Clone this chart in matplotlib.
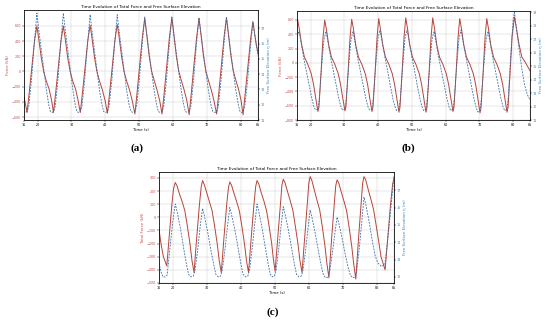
import matplotlib.pyplot as plt

# ---- data ----
time_ticks = [16, 20, 30, 40, 50, 60, 70, 80, 85]

# (a)
a_force_t = [16.0, 16.9, 17.5, 18.3, 19.1, 19.8, 20.3, 21.1, 21.8, 22.6, 23.4, 24.1, 24.7,
             25.3, 26.1, 26.9, 27.6, 28.1, 28.9, 29.6, 30.4, 31.2, 31.9, 32.6,
             33.2, 34.0, 34.8, 35.5, 36.0, 36.8, 37.5, 38.3, 39.1, 39.9, 40.6,
             41.2, 42.0, 42.8, 43.5, 44.0, 44.8, 45.5, 46.3, 47.1, 47.9, 48.7,
             49.3, 50.1, 50.9, 51.6, 52.1, 52.9, 53.6, 54.4, 55.2, 56.0, 56.7,
             57.3, 58.1, 58.9, 59.6, 60.1, 60.9, 61.6, 62.4, 63.2, 64.0, 64.7,
             65.3, 66.1, 66.9, 67.6, 68.1, 68.9, 69.6, 70.4, 71.2, 72.0, 72.8,
             73.4, 74.2, 75.0, 75.7, 76.2, 77.0, 77.7, 78.5, 79.3, 80.0, 80.6,
             81.2, 82.0, 82.8, 83.5, 84.0, 84.5, 85.0]
a_force = [-330, -540, -300, 50, 400, 600, 450, 180, 0, -130, -230, -370, -540,
           -300, 50, 400, 600, 450, 180, 0, -130, -230, -370, -540,
           -300, 50, 400, 610, 460, 180, 0, -130, -240, -380, -550,
           -300, 50, 410, 620, 470, 190, 0, -130, -240, -380, -560,
           -300, 80, 450, 700, 520, 210, 10, -120, -240, -380, -560,
           -300, 80, 460, 710, 520, 210, 10, -120, -240, -380, -570,
           -300, 80, 450, 700, 520, 210, 10, -120, -240, -380, -560,
           -300, 80, 460, 710, 520, 210, 10, -120, -240, -380, -570,
           -300, 60, 420, 660, 500, 350, 250]
a_eta_t = [16.0, 16.5, 16.9, 17.4, 18.2, 19.0, 19.8, 20.2, 21.0, 21.8, 22.6, 23.3, 23.8, 24.3, 24.7,
           25.2, 26.0, 26.8, 27.6, 28.0, 28.8, 29.6, 30.4, 31.1, 31.6, 32.1, 32.6,
           33.1, 33.9, 34.7, 35.5, 35.9, 36.7, 37.5, 38.3, 39.0, 39.5, 40.1, 40.6,
           41.1, 41.9, 42.7, 43.5, 43.9, 44.7, 45.5, 46.3, 47.0, 47.6, 48.2, 48.7,
           49.2, 50.0, 50.8, 51.6, 52.0, 52.8, 53.6, 54.4, 55.1, 55.6, 56.2, 56.7,
           57.2, 58.0, 58.8, 59.6, 60.0, 60.8, 61.6, 62.4, 63.1, 63.6, 64.2, 64.7,
           65.2, 66.0, 66.8, 67.6, 68.0, 68.8, 69.6, 70.4, 71.1, 71.7, 72.3, 72.8,
           73.3, 74.1, 74.9, 75.7, 76.1, 76.9, 77.7, 78.5, 79.2, 79.7, 80.2, 80.6,
           81.1, 81.9, 82.7, 83.5, 83.9, 84.5, 85.0]
a_eta = [11.6, 11.5, 11.55, 11.9, 13.6, 15.9, 18.0, 17.2, 15.8, 14.4, 13.0, 12.0, 11.55, 11.5, 11.55,
         11.9, 13.6, 15.9, 18.0, 17.2, 15.8, 14.4, 13.0, 12.0, 11.55, 11.5, 11.55,
         11.9, 13.6, 15.9, 17.9, 17.1, 15.7, 14.3, 12.9, 12.0, 11.55, 11.5, 11.55,
         11.9, 13.6, 15.9, 17.9, 17.1, 15.7, 14.3, 12.9, 12.0, 11.55, 11.5, 11.55,
         11.9, 13.6, 15.8, 17.75, 17.0, 15.6, 14.2, 12.9, 12.0, 11.55, 11.5, 11.55,
         11.9, 13.6, 15.8, 17.75, 17.0, 15.6, 14.2, 12.9, 12.0, 11.55, 11.5, 11.55,
         11.9, 13.6, 15.8, 17.7, 17.0, 15.6, 14.2, 12.9, 12.0, 11.55, 11.5, 11.55,
         11.9, 13.6, 15.8, 17.75, 17.0, 15.6, 14.2, 12.9, 12.0, 11.55, 11.5, 11.55,
         11.9, 13.5, 15.6, 17.4, 16.8, 15.9, 15.2]

# (b)
b_force_t = [16.0, 16.2, 16.7, 17.4, 18.2, 19.2, 20.2, 20.9, 21.5, 22.2, 22.5, 23.1, 23.7,
             24.2, 24.7, 25.4, 26.2, 27.2, 28.2, 28.9, 29.5, 30.2, 30.5, 31.1, 31.7,
             32.2, 32.7, 33.4, 34.2, 35.2, 36.2, 36.9, 37.5, 38.2, 38.5, 39.1, 39.7,
             40.2, 40.7, 41.4, 42.2, 43.2, 44.2, 44.9, 45.5, 46.2, 46.5, 47.1, 47.7,
             48.2, 48.7, 49.4, 50.2, 51.2, 52.2, 52.9, 53.5, 54.2, 54.5, 55.1, 55.7,
             56.2, 56.7, 57.4, 58.2, 59.2, 60.2, 60.9, 61.5, 62.2, 62.5, 63.1, 63.7,
             64.2, 64.7, 65.4, 66.2, 67.2, 68.2, 68.9, 69.5, 70.2, 70.5, 71.1, 71.7,
             72.2, 72.7, 73.4, 74.2, 75.2, 76.2, 76.9, 77.5, 78.2, 78.5, 79.1, 79.7,
             80.4, 81.0, 81.8, 82.6, 83.6, 85.0]
b_force = [590, 600, 470, 250, 80, -20, -150, -300, -480, -680, -620, -150, 350,
           600, 470, 250, 80, -20, -150, -300, -480, -670, -610, -150, 350,
           610, 480, 250, 80, -20, -150, -300, -480, -680, -620, -150, 350,
           620, 480, 250, 80, -20, -150, -300, -480, -690, -620, -150, 360,
           630, 490, 250, 80, -20, -150, -300, -480, -690, -620, -150, 360,
           630, 490, 250, 80, -20, -150, -300, -480, -680, -620, -150, 360,
           620, 480, 250, 80, -20, -150, -300, -480, -700, -630, -150, 360,
           620, 480, 250, 80, -20, -150, -300, -480, -690, -620, -150, 370,
           640, 480, 250, 80, 10, -110]
b_eta_t = [16.0, 16.6, 17.3, 18.0, 18.8, 19.6, 20.4, 21.0, 21.5, 22.2, 22.6, 23.3, 24.0,
           24.6, 25.3, 26.0, 26.8, 27.6, 28.4, 29.0, 29.5, 30.2, 30.6, 31.3, 32.0,
           32.6, 33.3, 34.0, 34.8, 35.6, 36.4, 37.0, 37.5, 38.2, 38.6, 39.3, 40.0,
           40.6, 41.3, 42.0, 42.8, 43.6, 44.4, 45.0, 45.5, 46.2, 46.6, 47.3, 48.0,
           48.6, 49.3, 50.0, 50.8, 51.6, 52.4, 53.0, 53.5, 54.2, 54.6, 55.3, 56.0,
           56.6, 57.3, 58.0, 58.8, 59.6, 60.4, 61.0, 61.5, 62.2, 62.6, 63.3, 64.0,
           64.6, 65.3, 66.0, 66.8, 67.6, 68.4, 69.0, 69.5, 70.2, 70.6, 71.3, 72.0,
           72.6, 73.3, 74.0, 74.8, 75.6, 76.4, 77.0, 77.5, 78.2, 78.6, 79.3, 80.0,
           80.4, 81.0, 81.8, 82.6, 83.4, 84.2, 85.0]
b_eta = [17.2, 17.6, 16.6, 15.6, 14.6, 13.6, 12.6, 12.0, 11.75, 11.8, 12.6, 15.0, 17.0,
         17.6, 16.6, 15.6, 14.6, 13.6, 12.6, 12.0, 11.75, 11.8, 12.6, 15.0, 17.0,
         17.6, 16.6, 15.6, 14.6, 13.6, 12.6, 12.0, 11.75, 11.8, 12.6, 15.0, 17.1,
         17.7, 16.7, 15.7, 14.7, 13.6, 12.6, 12.0, 11.7, 11.8, 12.6, 15.0, 17.1,
         17.7, 16.7, 15.7, 14.7, 13.6, 12.6, 12.0, 11.7, 11.8, 12.6, 15.0, 17.0,
         17.6, 16.6, 15.6, 14.6, 13.6, 12.6, 12.0, 11.7, 11.8, 12.6, 15.0, 17.1,
         17.7, 16.7, 15.7, 14.7, 13.6, 12.6, 12.0, 11.6, 11.7, 12.6, 15.0, 17.0,
         17.6, 16.6, 15.6, 14.6, 13.6, 12.6, 12.0, 11.7, 11.8, 12.8, 15.8, 18.4,
         19.0, 17.8, 16.2, 14.8, 13.6, 12.9, 12.5]

# (c)
c_force_t = [16.0, 16.6, 17.3, 18.3, 19.0, 19.8, 20.3, 20.8, 21.3, 22.0, 22.8, 23.6, 24.3, 25.1, 25.7, 26.3,
             27.1, 27.9, 28.4, 28.8, 29.3, 30.0, 30.8, 31.6, 32.3, 33.1, 33.7, 34.3,
             35.1, 35.9, 36.4, 36.8, 37.3, 38.0, 38.8, 39.6, 40.3, 41.1, 41.7, 42.3,
             43.1, 43.9, 44.4, 44.8, 45.3, 46.0, 46.8, 47.6, 48.3, 49.1, 49.6, 50.1,
             50.9, 51.7, 52.1, 52.5, 53.0, 53.7, 54.5, 55.3, 56.0, 56.8, 57.4, 58.0,
             58.8, 59.6, 60.0, 60.4, 60.9, 61.6, 62.4, 63.2, 63.9, 64.7, 65.3, 65.9,
             66.7, 67.5, 67.9, 68.3, 68.8, 69.5, 70.3, 71.1, 71.8, 72.6, 73.2, 73.8,
             74.6, 75.4, 75.8, 76.2, 76.7, 77.4, 78.2, 79.0, 79.7, 80.5, 81.2, 82.4,
             83.2, 84.0, 84.6, 85.0]
c_force = [-90, -200, -300, -370, -150, 100, 220, 265, 240, 180, 120, 50, -60, -200, -330, -420,
           -150, 100, 230, 280, 250, 190, 120, 50, -60, -200, -330, -420,
           -150, 100, 225, 270, 245, 185, 120, 50, -60, -200, -330, -420,
           -150, 100, 235, 280, 255, 190, 125, 50, -60, -200, -320, -410,
           -150, 110, 245, 290, 265, 200, 130, 55, -60, -200, -330, -420,
           -150, 120, 260, 310, 280, 210, 130, 55, -60, -210, -350, -460,
           -160, 110, 240, 285, 260, 195, 125, 50, -70, -220, -360, -470,
           -160, 120, 260, 310, 285, 215, 140, 60, -50, -180, -300, -400,
           -150, 100, 250, 300]
c_eta_t = [16.0, 16.6, 17.2, 17.8, 18.4, 19.2, 20.0, 20.8, 21.3, 22.3, 23.3, 24.1, 24.7, 25.4, 26.1,
           26.6, 27.4, 28.1, 28.8, 29.3, 30.3, 31.3, 32.1, 32.7, 33.4, 34.1,
           34.6, 35.4, 36.1, 36.8, 37.3, 38.3, 39.3, 40.1, 40.7, 41.4, 42.1,
           42.6, 43.4, 44.1, 44.8, 45.3, 46.3, 47.3, 48.1, 48.7, 49.3, 49.9,
           50.4, 51.2, 51.9, 52.5, 53.0, 54.0, 55.0, 55.8, 56.4, 57.1, 57.8,
           58.3, 59.1, 59.8, 60.4, 60.9, 61.9, 62.9, 63.7, 64.3, 65.0, 65.7,
           66.2, 67.0, 67.7, 68.3, 68.8, 69.8, 70.8, 71.6, 72.2, 72.9, 73.6,
           74.1, 74.9, 75.6, 76.2, 76.7, 77.7, 78.7, 79.5, 80.3, 81.3, 82.3,
           83.2, 84.1, 85.0]
c_eta = [12.8, 12.3, 12.0, 12.0, 12.1, 13.6, 15.1, 16.2, 15.8, 14.8, 13.6, 12.7, 12.15, 12.0, 12.05,
         12.4, 13.6, 14.9, 15.95, 15.55, 14.6, 13.5, 12.7, 12.15, 12.0, 12.05,
         12.4, 13.6, 14.9, 16.0, 15.6, 14.7, 13.6, 12.7, 12.15, 12.0, 12.05,
         12.4, 13.7, 15.0, 16.2, 15.8, 14.8, 13.6, 12.7, 12.15, 12.0, 12.05,
         12.4, 13.7, 15.0, 16.05, 15.65, 14.7, 13.6, 12.7, 12.15, 12.0, 12.05,
         12.4, 13.6, 14.9, 15.85, 15.45, 14.5, 13.4, 12.6, 12.1, 11.95, 12.0,
         12.4, 13.5, 14.6, 15.45, 15.1, 14.2, 13.2, 12.5, 12.1, 11.95, 12.0,
         12.4, 13.8, 15.3, 16.6, 16.2, 15.2, 14.0, 13.2, 12.8, 12.6, 12.7,
         14.2, 16.0, 17.8]

title = 'Time Evolution of Total Force and Free Surface Elevation'
eta_label = 'Free Surface Elevation \u03b7 (m)'

force_color = '#b5443a'
eta_color = '#3d6fa6'
force_tick_color = '#c0504d'
eta_tick_color = '#3b80b8'

fig = plt.figure(figsize=(5.5, 3.21), dpi=100)


def panel(rect, ft, fv, et, ev, flim, fticks, elim, eticks, flabel, tag, tag_xy):
    ax = fig.add_axes(rect)
    ax.plot(ft, fv, color=force_color, lw=0.7)
    ax.set_xlim(16, 85)
    ax.set_xticks(time_ticks)
    ax.set_ylim(flim)
    ax.set_yticks(fticks)
    ax.grid(True, color='#d0d0d0', lw=0.35)
    ax.set_title(title, fontsize=3.1, pad=1.5)
    ax.set_xlabel('Time (s)', fontsize=2.8, labelpad=1)
    ax.set_ylabel(flabel, color=force_tick_color, fontsize=2.8, labelpad=1.5)
    ax.tick_params(axis='both', labelsize=2.4, length=1.2, width=0.3, pad=1)
    ax.tick_params(axis='y', labelcolor=force_tick_color)
    for s in ax.spines.values():
        s.set_linewidth(0.4)

    ax2 = ax.twinx()
    ax2.plot(et, ev, color=eta_color, lw=0.6, ls=(0, (2.2, 1.4)))
    ax2.set_ylim(elim)
    ax2.set_yticks(eticks)
    ax2.set_ylabel(eta_label, color=eta_tick_color, fontsize=2.8, labelpad=1.5)
    ax2.tick_params(axis='y', labelsize=2.4, length=1.2, width=0.3, pad=1,
                    labelcolor=eta_tick_color)
    for s in ax2.spines.values():
        s.set_linewidth(0.4)

    fig.text(tag_xy[0], tag_xy[1], tag, ha='center', va='center',
             fontsize=8, fontweight='bold', family='Liberation Serif')


panel([0.0436, 0.626, 0.4255, 0.3427], a_force_t, a_force, a_eta_t, a_eta,
      (-640, 810), [-600, -400, -200, 0, 200, 400, 600],
      (11, 18.2), [11, 12, 13, 14, 15, 16, 17],
      'Force (kN)', '(a)', (0.249, 0.539))

panel([0.54, 0.626, 0.4236, 0.3396], b_force_t, b_force, b_eta_t, b_eta,
      (-800, 725), [-800, -600, -400, -200, 0, 200, 400, 600],
      (11, 19.1), [11, 12, 13, 14, 15, 16, 17, 18, 19],
      'Force (kN)', '(b)', (0.742, 0.539))

panel([0.289, 0.1184, 0.4273, 0.3458], c_force_t, c_force, c_eta_t, c_eta,
      (-500, 345), [-500, -400, -300, -200, -100, 0, 100, 200, 300],
      (11.65, 18.05), [12, 13, 14, 15, 16, 17],
      'Total Force (kN)', '(c)', (0.496, 0.028))

fig.savefig('out.png', dpi=100)
